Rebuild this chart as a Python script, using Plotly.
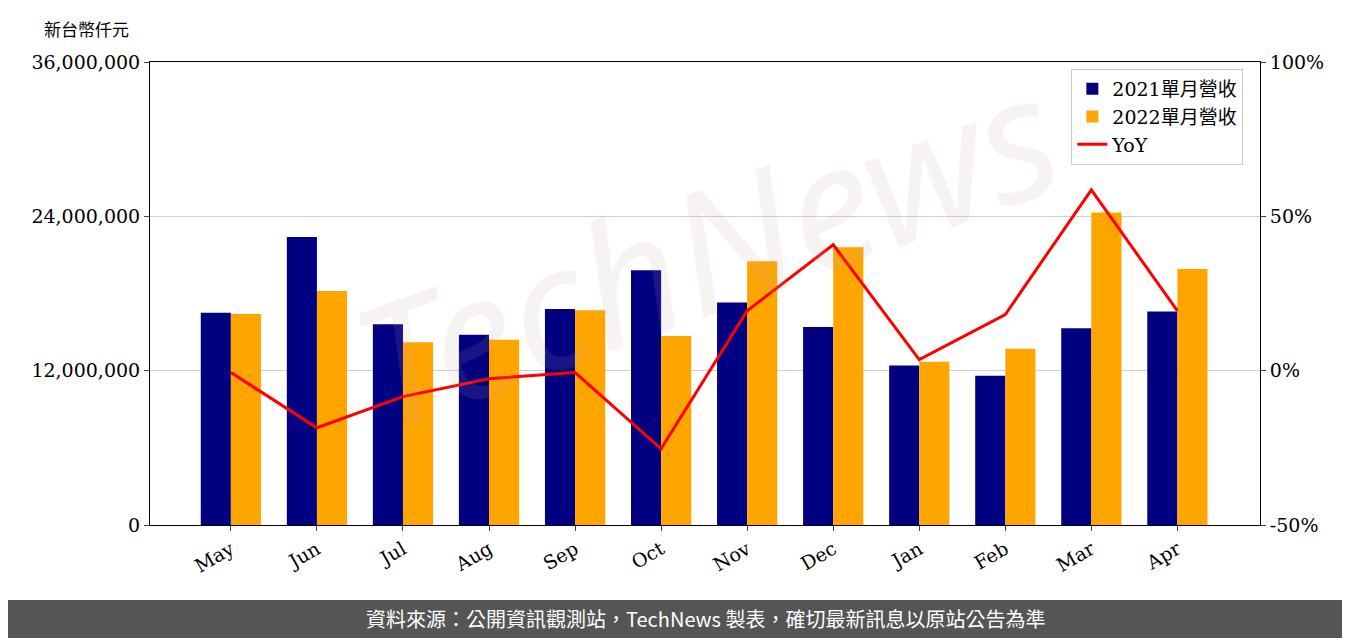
import plotly.graph_objects as go

months = ["May", "Jun", "Jul", "Aug", "Sep", "Oct", "Nov", "Dec", "Jan", "Feb", "Mar", "Apr"]
rev_2021 = [16.5, 22.4, 15.6, 14.8, 16.8, 19.8, 17.3, 15.4, 12.4, 11.6, 15.3, 16.6]
rev_2022 = [16.4, 18.2, 14.2, 14.4, 16.7, 14.7, 20.5, 21.6, 12.7, 13.7, 24.3, 19.9]
yoy = [-0.6, -18.5, -8.4, -2.6, -0.6, -25.3, 19.4, 40.8, 3.6, 18.2, 58.6, 19.4]

rev_2021 = [v * 1e6 for v in rev_2021]
rev_2022 = [v * 1e6 for v in rev_2022]

font = "DejaVu Serif, Noto Sans CJK TC"
fig = go.Figure()
fig.add_trace(go.Bar(x=months, y=rev_2021, name="2021單月營收", marker_color="#000080",
                     marker_line_width=0))
fig.add_trace(go.Bar(x=months, y=rev_2022, name="2022單月營收", marker_color="#FFA500",
                     marker_line_width=0))
fig.add_trace(go.Scatter(x=months, y=yoy, name="YoY", mode="lines",
                         line=dict(color="red", width=3), yaxis="y2"))

fig.update_layout(
    width=1350, height=638, template="plotly_white",
    margin=dict(l=142, r=98, t=54, b=121, autoexpand=False),
    font=dict(family=font, size=19, color="black"),
    bargap=0.3, bargroupgap=0,
    xaxis=dict(tickangle=-30, showline=True, linecolor="black", mirror=True,
               ticks="outside", showgrid=False, range=[-0.94, 11.96]),
    yaxis=dict(range=[0, 36e6], tickvals=[0, 12e6, 24e6, 36e6], tickformat=",",
               showline=True, linecolor="black", ticks="outside",
               gridcolor="#d0d0d0", zeroline=False),
    yaxis2=dict(range=[-50, 100], tickvals=[-50, 0, 50, 100],
                ticktext=["-50%", "0%", "50%", "100%"],
                overlaying="y", side="right", showgrid=False, zeroline=False,
                showline=True, linecolor="black", ticks="outside"),
    legend=dict(x=0.985, y=0.985, xanchor="right", yanchor="top",
                bordercolor="#cccccc", borderwidth=1, bgcolor="rgba(255,255,255,0.8)",
                font=dict(size=19)),
    annotations=[
        dict(text="新台幣仟元", xref="paper", yref="paper", x=-0.097, y=1.04,
             showarrow=False, xanchor="left", yanchor="bottom",
             font=dict(size=17, family="Noto Sans CJK TC")),
        dict(text="<i>TechNews</i>", xref="paper", yref="paper", x=0.5, y=0.6,
             showarrow=False, textangle=-20,
             font=dict(size=170, family="Noto Sans", color="rgba(200,160,160,0.13)")),
        dict(text="資料來源：公開資訊觀測站，TechNews 製表，確切最新訊息以原站公告為準",
             xref="paper", yref="paper", x=0.5, y=-0.203, yanchor="middle",
             showarrow=False,
             font=dict(size=20, family="Noto Sans CJK TC", color="white")),
    ],
    shapes=[dict(type="rect", xref="paper", yref="paper", x0=-0.2, x1=1.2,
                 y0=-0.27, y1=-0.162, fillcolor="#555555", line_width=0, layer="below")],
)
fig.write_html("out.html")
